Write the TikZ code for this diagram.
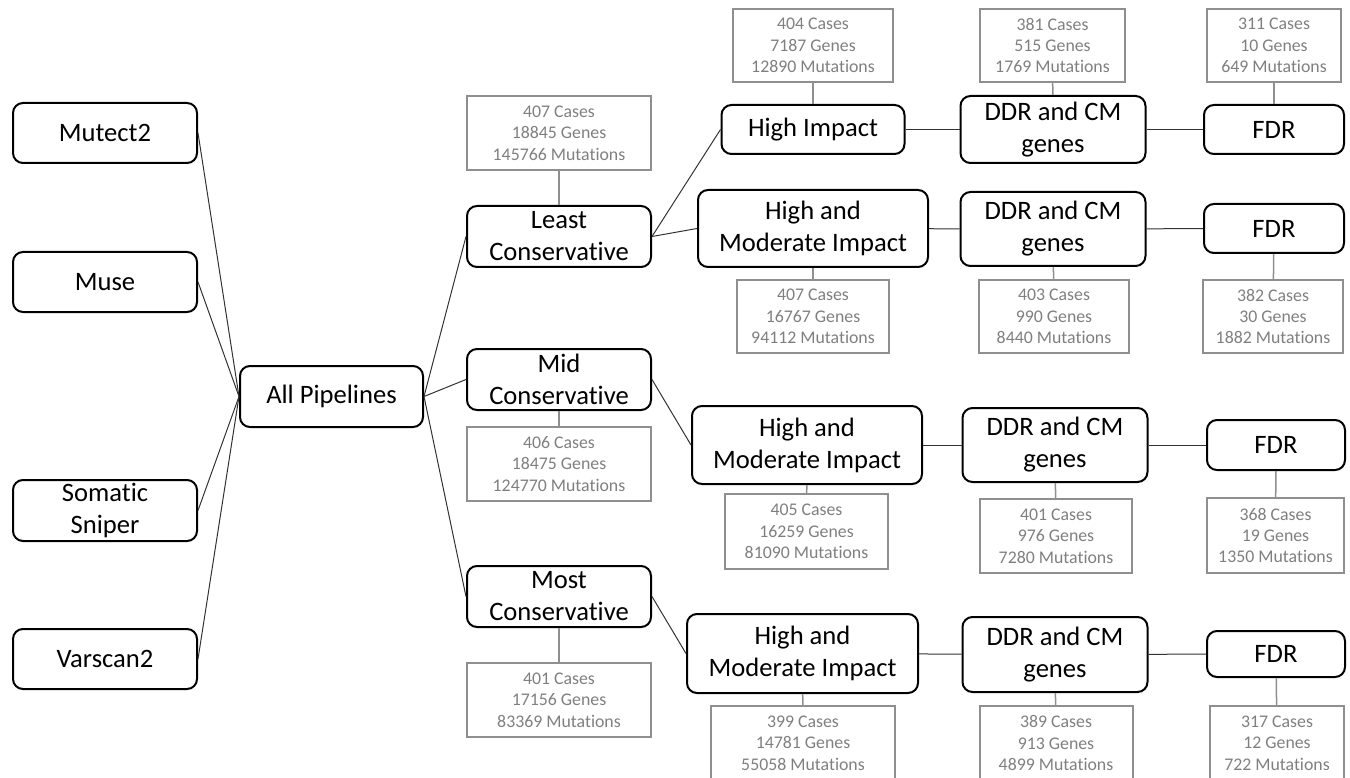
\documentclass[tikz,border=0pt]{standalone}
\usepackage{fontspec}
\setmainfont{Carlito}[Ligatures=NoCommon]
\usetikzlibrary{positioning}
\definecolor{countgray}{HTML}{7F7F7F}
\definecolor{countedge}{HTML}{8F8F8F}
\definecolor{linkgray}{HTML}{333333}
\tikzset{
  stagebox/.style={draw,line width=2pt,rounded corners=10pt,align=center,inner sep=0pt,font=\fontsize{26.6}{32}\selectfont},
  countbox/.style={draw=countedge,line width=2pt,align=center,inner sep=0pt,text=countgray,font=\fontsize{17.8}{21.3}\selectfont},
  boxsize/.style 2 args={minimum width=#1pt,minimum height=#2pt},
  link/.style={line width=1pt,linkgray},
  countlink/.style={line width=1.5pt,countedge}
}

\begin{document}
\begin{tikzpicture}[x=1pt,y=-1pt]
  \useasboundingbox (0,0) rectangle (1350,778);
  \clip (0,0) rectangle (1350,778);

  % Callers
  \node[stagebox,boxsize={184}{60}] (mutect) at (105,133) {Mutect2};
  \node[stagebox,boxsize={184}{60}] (muse) at (105,282) {Muse};
  \node[stagebox,boxsize={184}{61}] (sniper) at (105,510.5) {Somatic\\Sniper};
  \node[stagebox,boxsize={184}{60}] (varscan) at (105,659) {Varscan2};
  \node[stagebox,boxsize={183}{61}] (allpipe) at (331.5,396.5) {All Pipelines};

  % Filter levels
  \node[stagebox,boxsize={184}{61}] (least) at (559,236.5) {Least\\Conservative};
  \node[stagebox,boxsize={184}{61}] (mid) at (559,379.5) {Mid\\Conservative};
  \node[stagebox,boxsize={184}{61}] (most) at (559,596.5) {Most\\Conservative};
  \node[countbox,boxsize={184}{74}] (n-least) at (559,133) {407 Cases\\18845 Genes\\145766 Mutations};
  \node[countbox,boxsize={184}{74}] (n-mid) at (559,464) {406 Cases\\18475 Genes\\124770 Mutations};
  \node[countbox,boxsize={184}{74}] (n-most) at (559,700) {401 Cases\\17156 Genes\\83369 Mutations};

  % Impact
  \node[stagebox,boxsize={183}{49}] (hi1) at (813,129.5) {High Impact};
  \node[stagebox,boxsize={230}{77}] (hmi1) at (813,228.5) {High and\\Moderate Impact};
  \node[stagebox,boxsize={230}{78}] (hmi2) at (807,445) {High and\\Moderate Impact};
  \node[stagebox,boxsize={231}{79}] (hmi3) at (802.5,653.5) {High and\\Moderate Impact};
  \node[countbox,boxsize={160}{73}] (n-hi1) at (813,45.5) {404 Cases\\7187 Genes\\12890 Mutations};
  \node[countbox,boxsize={152}{73}] (n-hmi1) at (813,316.5) {407 Cases\\16767 Genes\\94112 Mutations};
  \node[countbox,boxsize={163}{75}] (n-hmi2) at (806.5,531.5) {405 Cases\\16259 Genes\\81090 Mutations};
  \node[countbox,boxsize={184}{74}] (n-hmi3) at (803,743) {399 Cases\\14781 Genes\\55058 Mutations};

  % DDR and CM genes
  \node[stagebox,boxsize={185}{67}] (ddr1) at (1053,129.5) {DDR and CM\\genes};
  \node[stagebox,boxsize={185}{74}] (ddr2) at (1053,229) {DDR and CM\\genes};
  \node[stagebox,boxsize={185}{74}] (ddr3) at (1055,445) {DDR and CM\\genes};
  \node[stagebox,boxsize={185}{75}] (ddr4) at (1055,654.5) {DDR and CM\\genes};
  \node[countbox,boxsize={145}{73}] (n-ddr1) at (1052.5,45.5) {381 Cases\\515 Genes\\1769 Mutations};
  \node[countbox,boxsize={150}{73}] (n-ddr2) at (1054,316.5) {403 Cases\\990 Genes\\8440 Mutations};
  \node[countbox,boxsize={152}{74}] (n-ddr3) at (1056,536) {401 Cases\\976 Genes\\7280 Mutations};
  \node[countbox,boxsize={153}{74}] (n-ddr4) at (1056,743) {389 Cases\\913 Genes\\4899 Mutations};

  % FDR
  \node[stagebox,boxsize={140}{49}] (fdr1) at (1274,129.5) {FDR};
  \node[stagebox,boxsize={140}{49}] (fdr2) at (1274,228.5) {FDR};
  \node[stagebox,boxsize={138}{50}] (fdr3) at (1276,445) {FDR};
  \node[stagebox,boxsize={138}{46}] (fdr4) at (1276,654) {FDR};
  \node[countbox,boxsize={134}{73}] (n-fdr1) at (1274,45.5) {311 Cases\\10 Genes\\649 Mutations};
  \node[countbox,boxsize={140}{73}] (n-fdr2) at (1273,316.5) {382 Cases\\30 Genes\\1882 Mutations};
  \node[countbox,boxsize={137}{75}] (n-fdr3) at (1275.5,535.5) {368 Cases\\19 Genes\\1350 Mutations};
  \node[countbox,boxsize={134}{74}] (n-fdr4) at (1277,743) {317 Cases\\12 Genes\\722 Mutations};

  % Links
  \foreach \s in {mutect,muse,sniper,varscan}
    \draw[link] (\s.east) -- (allpipe.west);
  \foreach \s in {least,mid,most}
    \draw[link] (allpipe.east) -- (\s.west);
  \draw[link] (least.east) -- (hi1.west);
  \draw[link] (least.east) -- (hmi1.west);
  \draw[link] (mid.east) -- (hmi2.west);
  \draw[link] (most.east) -- (hmi3.west);
  \foreach \a/\b/\c in {hi1/ddr1/fdr1,hmi1/ddr2/fdr2,hmi2/ddr3/fdr3,hmi3/ddr4/fdr4}
    \draw[link] (\a) -- (\b) -- (\c);
  \foreach \s in {least,mid,most,hi1,hmi1,hmi2,hmi3,ddr1,ddr2,ddr3,ddr4,fdr1,fdr2,fdr3,fdr4}
    \draw[countlink] (n-\s) -- (\s);
\end{tikzpicture}
\end{document}
